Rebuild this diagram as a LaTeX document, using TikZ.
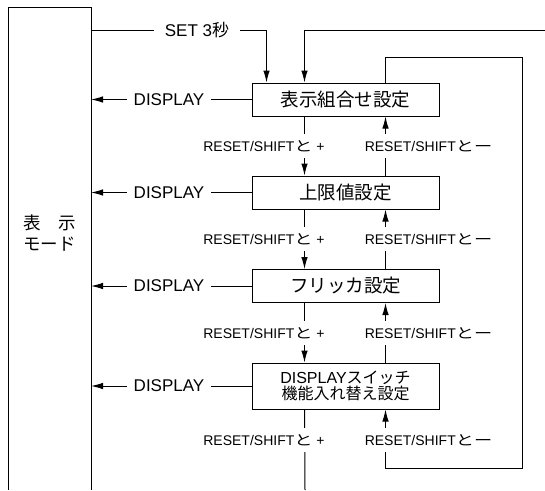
\documentclass[tikz,border=0pt]{standalone}
\usepackage{fontspec}
\usepackage{graphicx}
\setmainfont{Liberation Sans}
\newfontfamily\jp{Noto Sans CJK JP}
\usetikzlibrary{arrows.meta}
\newcommand\jto{\scalebox{1.3}[1]{\jp と}}
\newcommand\jmi{\scalebox{1.3}[1]{\jp ー}}
\begin{document}
\begin{tikzpicture}[x=1pt,y=-1pt,
  line width=1pt,
  arr/.style={-{Latex[length=12pt,width=6.5pt]}},
  box/.style={draw, minimum width=187pt, minimum height=33pt, inner sep=0pt,
    font=\jp\fontsize{18.5}{20}\selectfont},
  disp/.style={inner xsep=6.5pt, inner ysep=0pt, font=\fontsize{17}{18}\selectfont},
  rs/.style={fill=white, inner xsep=0pt, inner ysep=0pt, minimum height=24pt,
    font=\fontsize{14}{15}\selectfont},
]
\useasboundingbox (0,0) rectangle (545,490);

% left mode box (open at bottom)
\draw (8,490) -- (8,7) -- (91,7) -- (91,490);
\coordinate (edge) at (91,0);
\node[font=\jp\fontsize{17.5}{21}\selectfont, align=center] (mode) at (49.5,233.5) {表　示\\モード};

% setting boxes
\node[box] (b1) at (345.5,99.5) {表示組合せ設定};
\node[box] (b2) at (345.5,192.5) {上限値設定};
\node[box] (b3) at (345.5,286) {フリッカ設定};
\node[box, minimum height=46pt, align=center, font=\fontsize{16}{16.5}\selectfont] (b4) at (345.5,386)
  {DISPLAY{\jp スイッチ}\\{\jp 機能入れ替え設定}};

% SET 3s entry
\coordinate (s0) at (91,30);
\node[disp, inner xsep=10.5pt] (set) at (197,30) {SET 3{\jp 秒}};
\draw (s0) -- (set.west);
\draw[arr] (set.east) -| ([xshift=15pt]b1.north west);

% return from right
\coordinate (r0) at (545,30);
\draw[arr] (r0) -| ([xshift=53pt]b1.north west);

% inner loop
\coordinate (lt) at (522,57);
\coordinate (lb) at (522,468);
\draw[arr] ([xshift=134pt]b1.north west) |- (lt) -- (lb) -| ([xshift=134pt]b4.south west);

% DISPLAY arrows
\foreach \b/\y in {b1/99.5, b2/192.5, b3/286, b4/386} {
  \node[disp] (d\b) at (169,\y) {DISPLAY};
  \draw (\b.west) -- (d\b.east);
  \draw[arr] (d\b.west) -- (edge |- d\b);
}

% vertical transitions
\foreach \u/\l in {b1/b2, b2/b3, b3/b4} {
  \draw[arr] ([xshift=53pt]\u.south west) -- ([xshift=53pt]\l.north west);
  \draw[arr] ([xshift=134pt]\l.north west) -- ([xshift=134pt]\u.south west);
}
\coordinate (bot) at (305,490);
\draw ([xshift=53pt]b4.south west) -- (bot);

% labels
\foreach \y [count=\i] in {146, 239, 333, 440} {
  \node[rs] (p\i) at (264,\y) {RESET/SHIFT\jto\ +};
  \node[rs] (m\i) at (428.5,\y) {RESET/SHIFT\jto\jmi};
}
\end{tikzpicture}
\end{document}
